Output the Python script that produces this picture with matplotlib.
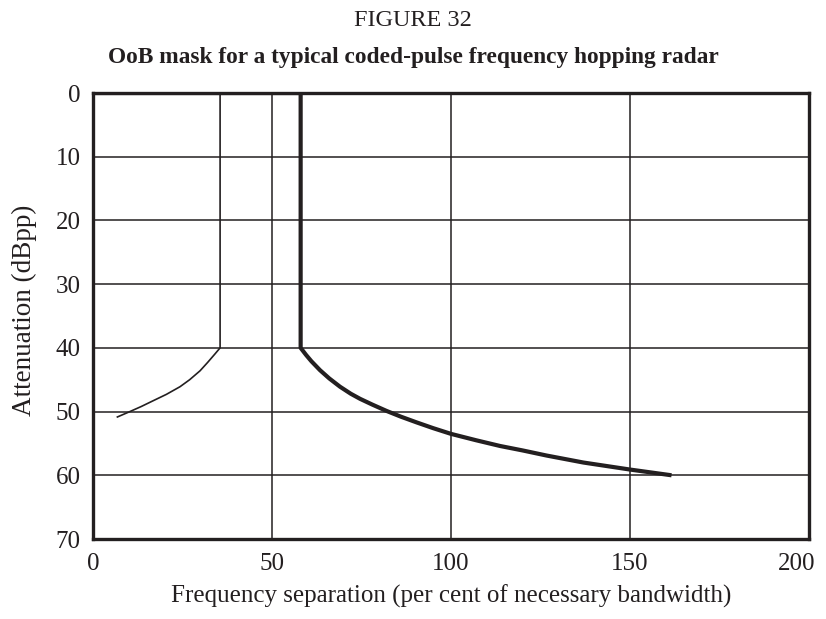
import matplotlib
matplotlib.use("Agg")
import matplotlib.pyplot as plt
import matplotlib.transforms as mtransforms

# Data
mask_x = [0, 58, 58, 59.5, 61, 63.4, 66, 69, 72, 74.6, 78, 82, 86, 90.4, 95, 100,
          107, 113.7, 120, 126.7, 137, 150, 161.6]
mask_y = [0, 0, 40, 41.1, 42.1, 43.5, 44.8, 46.1, 47.2, 48.0, 48.9, 49.9, 50.8, 51.7, 52.6, 53.5,
          54.5, 55.4, 56.1, 56.9, 58.0, 59.1, 60.0]
thin_x = [35.5, 35.5, 34, 32, 29.9, 27, 24.3, 20.5, 16.8, 13.5, 10.3, 6.6]
thin_y = [0, 40, 41.0, 42.3, 43.6, 45.0, 46.1, 47.3, 48.3, 49.2, 50.0, 50.9]
xticks = [0, 50, 100, 150, 200]
yticks = [0, 10, 20, 30, 40, 50, 60, 70]

plt.rcParams['font.family'] = ['Liberation Serif', 'DejaVu Serif']
ink = '#231f20'

fig = plt.figure(figsize=(8.26, 6.19), dpi=100)
ax = fig.add_axes([93/826, 1-539/619, (809-93)/826, (539-93)/619])

ax.set_xlim(0, 200)
ax.set_ylim(70, 0)
ax.set_xticks(xticks)
ax.set_yticks(yticks)
ax.tick_params(length=0, labelsize=18, colors=ink)
ax.tick_params(axis='x', pad=10)
ax.tick_params(axis='y', pad=9)
ax.grid(True, color=ink, linewidth=1.1)
for s in ax.spines.values():
    s.set_linewidth(2.4)
    s.set_color(ink)

# shift the last x tick label left so it stays inside the figure
lbls = ax.get_xticklabels()
lbls[-1].set_transform(lbls[-1].get_transform() +
                       mtransforms.ScaledTranslation(-12/100, 0, fig.dpi_scale_trans))

ax.plot(thin_x, thin_y, color=ink, linewidth=1.2, solid_capstyle='butt')
ax.plot(mask_x, mask_y, color=ink, linewidth=3.0, solid_capstyle='butt', solid_joinstyle='round')

ax.set_xlabel('Frequency separation (per cent of necessary bandwidth)', fontsize=18, color=ink, labelpad=7)
ax.set_ylabel('Attenuation (dBpp)', fontsize=19.5, color=ink)
ax.yaxis.set_label_coords(37/826, 1-310/619, transform=fig.transFigure)

fig.text(0.5, 1-20/619, 'FIGURE 32', ha='center', va='center', fontsize=17.5, color=ink)
fig.text(0.5, 1-57/619, 'OoB mask for a typical coded-pulse frequency hopping radar',
         ha='center', va='center', fontsize=16.8, fontweight='bold', color=ink)

fig.savefig('out.png', dpi=100)
